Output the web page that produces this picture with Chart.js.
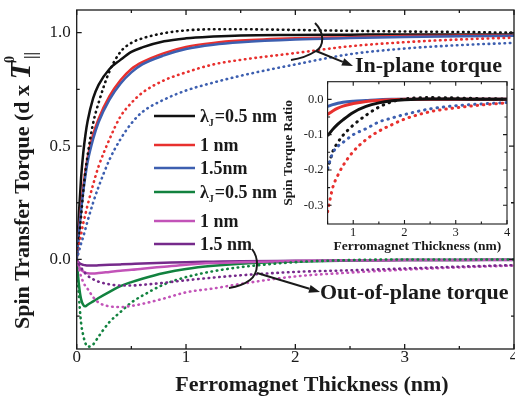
<!DOCTYPE html>
<html>
<head>
<meta charset="utf-8">
<script src="https://cdn.jsdelivr.net/npm/chart.js@4.4.1/dist/chart.umd.min.js"></script>
<style>
  html, body { margin: 0; padding: 0; background: #fff; }
  #wrap { position: relative; width: 515px; height: 401px; }
  #main { position: absolute; left: 0; top: 0; }
  #inset { position: absolute; left: 280px; top: 76px; }
</style>
</head>
<body>
<div id="wrap">
  <canvas id="main" width="515" height="401"></canvas>
  <canvas id="inset" width="232" height="178"></canvas>
</div>
<script>
// thickness grid (nm) for the main panel
const thickness = [0, 0.02, 0.04, 0.06, 0.08, 0.1, 0.15, 0.2, 0.3, 0.4, 0.5, 0.6, 0.8, 1.0, 1.25, 1.5, 2, 2.5, 3, 3.5, 4];

// in-plane torque, solid = one model, dotted = other
const inPlaneSolid05 = [0, 0.2, 0.36, 0.47, 0.55, 0.61, 0.71, 0.77, 0.84, 0.88, 0.915, 0.935, 0.962, 0.975, 0.983, 0.988, 0.99, 0.991, 0.992, 0.992, 0.992];
const inPlaneSolid10 = [0, 0.12, 0.23, 0.32, 0.39, 0.45, 0.55, 0.62, 0.72, 0.79, 0.84, 0.87, 0.91, 0.937, 0.955, 0.965, 0.975, 0.98, 0.985, 0.987, 0.988];
const inPlaneSolid15 = [0, 0.11, 0.215, 0.3, 0.37, 0.43, 0.53, 0.605, 0.705, 0.775, 0.825, 0.86, 0.9, 0.928, 0.947, 0.958, 0.97, 0.976, 0.981, 0.984, 0.986];
const inPlaneDot05 = [0, 0.09, 0.19, 0.3, 0.39, 0.46, 0.6, 0.69, 0.83, 0.915, 0.955, 0.975, 0.998, 1.01, 1.015, 1.015, 1.012, 1.008, 1.005, 1.003, 1.0];
const inPlaneDot10 = [0, 0.055, 0.11, 0.16, 0.2, 0.24, 0.33, 0.41, 0.53, 0.63, 0.69, 0.735, 0.79, 0.825, 0.86, 0.88, 0.91, 0.94, 0.958, 0.97, 0.978];
const inPlaneDot15 = [0, 0.035, 0.07, 0.1, 0.135, 0.17, 0.25, 0.32, 0.44, 0.53, 0.6, 0.65, 0.705, 0.745, 0.78, 0.81, 0.86, 0.905, 0.93, 0.945, 0.955];

// out-of-plane torque
const outSolid05 = [0, -0.11, -0.175, -0.2, -0.207, -0.2, -0.185, -0.17, -0.143, -0.118, -0.1, -0.085, -0.06, -0.042, -0.028, -0.019, -0.009, -0.005, -0.003, -0.002, -0.001];
const outSolid10 = [0, -0.03, -0.045, -0.053, -0.058, -0.061, -0.062, -0.06, -0.055, -0.05, -0.046, -0.041, -0.032, -0.023, -0.016, -0.012, -0.007, -0.004, -0.003, -0.002, -0.001];
const outSolid15 = [0, -0.014, -0.021, -0.024, -0.026, -0.027, -0.027, -0.026, -0.024, -0.022, -0.02, -0.018, -0.015, -0.012, -0.01, -0.008, -0.006, -0.004, -0.003, -0.002, -0.002];
const outDot05 = [0, -0.16, -0.28, -0.335, -0.37, -0.385, -0.375, -0.34, -0.276, -0.232, -0.19, -0.16, -0.11, -0.078, -0.052, -0.034, -0.012, -0.003, 0, 0, 0];
const outDot10 = [0, -0.04, -0.075, -0.1, -0.118, -0.13, -0.166, -0.19, -0.207, -0.21, -0.205, -0.196, -0.172, -0.145, -0.128, -0.108, -0.075, -0.058, -0.045, -0.035, -0.027];
const outDot15 = [0, -0.02, -0.036, -0.05, -0.062, -0.072, -0.087, -0.098, -0.11, -0.115, -0.115, -0.112, -0.103, -0.092, -0.08, -0.07, -0.055, -0.048, -0.04, -0.032, -0.025];

// inset: spin torque ratio
const insetThickness = [0.5, 0.6, 0.7, 0.8, 1.0, 1.25, 1.5, 1.75, 2.0, 2.5, 3.0, 3.5, 4.0];
const ratioSolid05 = [-0.103, -0.085, -0.07, -0.058, -0.037, -0.02, -0.01, -0.004, -0.001, 0.001, 0.001, 0, 0];
const ratioSolid10 = [-0.043, -0.033, -0.025, -0.019, -0.012, -0.006, -0.003, -0.001, 0, 0, 0, 0, 0];
const ratioSolid15 = [-0.02, -0.015, -0.011, -0.008, -0.005, -0.003, -0.001, 0, 0, 0, 0, 0, 0];
const ratioDot05 = [-0.198, -0.148, -0.122, -0.102, -0.073, -0.045, -0.022, -0.007, 0.001, 0.005, 0.004, 0.002, 0.001];
const ratioDot10 = [-0.318, -0.25, -0.215, -0.188, -0.148, -0.114, -0.09, -0.072, -0.056, -0.035, -0.024, -0.016, -0.01];
const ratioDot15 = [-0.195, -0.152, -0.133, -0.122, -0.1, -0.083, -0.064, -0.053, -0.043, -0.027, -0.018, -0.013, -0.009];

// axis ticks
const mainXTicks = [0, 1, 2, 3, 4];
const mainXMinor = [0.5, 1.5, 2.5, 3.5];
const mainYTicks = [0, 0.5, 1.0];
const mainYMinor = [-0.25, 0.25, 0.75];
const insetXTicks = [1, 2, 3, 4];
const insetXMinor = [0.5, 1.5, 2.5, 3.5];
const insetYTicks = [0, -0.1, -0.2, -0.3];
const insetYMinor = [-0.05, -0.15, -0.25];

const legendLabels = ["λ_J=0.5 nm", "1 nm", "1.5nm", "λ_J=0.5 nm", "1 nm", "1.5 nm"];

const SERIF = "'Liberation Serif', 'Times New Roman', serif";
const INK = "#1a1a1a";
const C = {
    black: "#111111", red: "#e8302e", blue: "#3d5fb0",
    green: "#12823f", magenta: "#c253b8", purple: "#762a8b"
};

function pts(xs, ys) {
    return xs.map((x, i) => ({ x: x, y: ys[i] }));
}

function series(xs, ys, color, dotted, width) {
    return {
        data: pts(xs, ys),
        borderColor: color,
        borderWidth: width,
        borderDash: dotted ? [0.5, dotted] : [],
        borderCapStyle: dotted ? "round" : "butt",
        borderJoinStyle: "round",
        pointRadius: 0,
        cubicInterpolationMode: "monotone",
        fill: false
    };
}

// fixed scale box, no label overflow padding
function fixBox(size, horizontal) {
    return s => {
        if (horizontal) s.height = size; else s.width = size;
        s.paddingTop = s.paddingBottom = s.paddingLeft = s.paddingRight = 0;
    };
}

function drawFrame(chart, o) {
    const { ctx, chartArea: a, scales } = chart;
    const x = scales.x, y = scales.y;
    ctx.save();
    ctx.strokeStyle = INK;
    ctx.lineWidth = o.lw;
    ctx.strokeRect(a.left, a.top, a.right - a.left, a.bottom - a.top);
    ctx.beginPath();
    const xt = (vals, len) => vals.forEach(v => {
        const p = x.getPixelForValue(v);
        ctx.moveTo(p, a.bottom); ctx.lineTo(p, a.bottom - len);
        ctx.moveTo(p, a.top); ctx.lineTo(p, a.top + len);
    });
    const yt = (vals, len) => vals.forEach(v => {
        const p = y.getPixelForValue(v);
        ctx.moveTo(a.left, p); ctx.lineTo(a.left + len, p);
        ctx.moveTo(a.right, p); ctx.lineTo(a.right - len, p);
    });
    xt(o.xMajor, o.major); xt(o.xMinor, o.minor);
    yt(o.yMajor, o.major); yt(o.yMinor, o.minor);
    ctx.stroke();
    ctx.restore();
}

function arrow(ctx, x1, y1, x2, y2) {
    const ang = Math.atan2(y2 - y1, x2 - x1);
    const L = 11, W = 4;
    ctx.beginPath();
    ctx.moveTo(x1, y1);
    ctx.lineTo(x2 - L * Math.cos(ang), y2 - L * Math.sin(ang));
    ctx.stroke();
    ctx.beginPath();
    ctx.moveTo(x2, y2);
    ctx.lineTo(x2 - L * Math.cos(ang) + W * Math.sin(ang), y2 - L * Math.sin(ang) - W * Math.cos(ang));
    ctx.lineTo(x2 - L * Math.cos(ang) - W * Math.sin(ang), y2 - L * Math.sin(ang) + W * Math.cos(ang));
    ctx.closePath();
    ctx.fill();
}

const mainDecor = {
    id: "mainDecor",
    afterDraw(chart) {
        const ctx = chart.ctx;
        drawFrame(chart, { lw: 1.3, major: 5, minor: 3,
            xMajor: mainXTicks, xMinor: mainXMinor, yMajor: mainYTicks, yMinor: mainYMinor });

        ctx.save();
        ctx.fillStyle = INK;
        ctx.strokeStyle = INK;

        // x title
        ctx.font = "bold 22px " + SERIF;
        ctx.textAlign = "center";
        ctx.textBaseline = "middle";
        ctx.fillText("Ferromagnet Thickness (nm)", 312, 385);

        // y title, rotated
        ctx.save();
        ctx.translate(29, 329);
        ctx.rotate(-Math.PI / 2);
        ctx.textAlign = "left";
        ctx.textBaseline = "alphabetic";
        ctx.font = "bold 22px " + SERIF;
        const main = "Spin Transfer Torque (d x ";
        ctx.fillText(main, 0, 0);
        let cx = ctx.measureText(main).width;
        ctx.font = "italic bold 30px " + SERIF;
        ctx.fillText("T", cx, 1);
        cx += ctx.measureText("T").width;
        ctx.font = "bold 14px " + SERIF;
        ctx.fillText("0", cx - 2, -15);
        ctx.font = "bold 16px " + SERIF;
        ctx.fillText("||", cx + 2, 7);
        ctx.restore();

        // legend
        const colors = [C.black, C.red, C.blue, C.green, C.magenta, C.purple];
        const rows = [116, 145, 168, 192, 221, 244];
        legendLabels.forEach((lab, i) => {
            const yy = rows[i];
            ctx.strokeStyle = colors[i];
            ctx.lineWidth = 2.5;
            ctx.beginPath();
            ctx.moveTo(154, yy); ctx.lineTo(195, yy);
            ctx.stroke();
            ctx.textAlign = "left";
            ctx.textBaseline = "middle";
            let tx = 200;
            if (lab.indexOf("_") > 0) {
                const [head, rest] = lab.split("_");
                ctx.font = "bold 18px " + SERIF;
                ctx.fillText(head, tx, yy + 1);
                tx += ctx.measureText(head).width;
                ctx.font = "bold 10px " + SERIF;
                ctx.fillText(rest[0], tx, yy + 7);
                tx += ctx.measureText(rest[0]).width + 1;
                ctx.font = "bold 18px " + SERIF;
                ctx.fillText(rest.slice(1), tx, yy + 1);
            } else {
                ctx.font = "bold 18px " + SERIF;
                ctx.fillText(lab, tx, yy + 1);
            }
        });

        // annotations: brackets + arrows
        ctx.strokeStyle = INK;
        ctx.fillStyle = INK;
        ctx.lineWidth = 2;
        ctx.beginPath();
        ctx.moveTo(315, 23);
        ctx.bezierCurveTo(325, 33, 324, 46, 316, 51);
        ctx.quadraticCurveTo(305, 58, 291, 60);
        ctx.stroke();
        arrow(ctx, 316, 51, 353, 66);

        ctx.beginPath();
        ctx.moveTo(252, 249);
        ctx.bezierCurveTo(259, 258, 259, 273, 250, 280);
        ctx.quadraticCurveTo(242, 286, 229, 288);
        ctx.stroke();
        arrow(ctx, 257, 273, 320, 292);

        ctx.font = "bold 22px " + SERIF;
        ctx.textAlign = "left";
        ctx.textBaseline = "middle";
        ctx.fillText("In-plane torque", 355, 66);
        ctx.fillText("Out-of-plane torque", 320, 293);
        ctx.restore();
    }
};

const insetDecor = {
    id: "insetDecor",
    afterDraw(chart) {
        const ctx = chart.ctx;
        const a = chart.chartArea;
        drawFrame(chart, { lw: 1.1, major: 4, minor: 2.5,
            xMajor: insetXTicks, xMinor: insetXMinor, yMajor: insetYTicks, yMinor: insetYMinor });
        ctx.save();
        ctx.fillStyle = INK;
        ctx.font = "bold 13.5px " + SERIF;
        ctx.textAlign = "center";
        ctx.textBaseline = "middle";
        ctx.fillText("Ferromagnet Thickness (nm)", (a.left + a.right) / 2, 171);
        ctx.translate(9, (a.top + a.bottom) / 2);
        ctx.rotate(-Math.PI / 2);
        ctx.fillText("Spin Torque Ratio", 0, 0);
        ctx.restore();
    }
};

new Chart(document.getElementById("main"), {
    type: "line",
    data: {
        datasets: [
            series(thickness, inPlaneDot15, C.blue, 4.8, 2.6),
            series(thickness, inPlaneDot10, C.red, 4.8, 2.6),
            series(thickness, inPlaneDot05, C.black, 4.8, 2.6),
            series(thickness, inPlaneSolid15, C.blue, 0, 2.5),
            series(thickness, inPlaneSolid10, C.red, 0, 2.5),
            series(thickness, inPlaneSolid05, C.black, 0, 2.5),
            series(thickness, outDot15, C.purple, 4.8, 2.6),
            series(thickness, outDot10, C.magenta, 4.8, 2.6),
            series(thickness, outDot05, C.green, 4.8, 2.6),
            series(thickness, outSolid10, C.magenta, 0, 2.5),
            series(thickness, outSolid15, C.purple, 0, 2.5),
            series(thickness, outSolid05, C.green, 0, 2.5)
        ]
    },
    options: {
        responsive: false,
        animation: false,
        layout: { padding: { top: 10, right: 1, left: 0, bottom: 0 } },
        plugins: { legend: { display: false }, tooltip: { enabled: false } },
        scales: {
            x: {
                type: "linear", min: 0, max: 4,
                grid: { display: false, drawTicks: false },
                border: { display: false },
                afterBuildTicks: s => { s.ticks = mainXTicks.map(v => ({ value: v })); },
                afterFit: fixBox(52, true),
                ticks: { color: INK, padding: 0, font: { family: SERIF, size: 17, lineHeight: 1 } }
            },
            y: {
                type: "linear", min: -0.395, max: 1.1,
                grid: { display: false, drawTicks: false },
                border: { display: false },
                afterBuildTicks: s => { s.ticks = mainYTicks.map(v => ({ value: v })); },
                afterFit: fixBox(76.7, false),
                ticks: { color: INK, padding: 6, font: { family: SERIF, size: 17 },
                         callback: v => Number(v).toFixed(1) }
            }
        }
    },
    plugins: [mainDecor]
});

new Chart(document.getElementById("inset"), {
    type: "line",
    data: {
        datasets: [
            series(insetThickness, ratioDot10, C.red, 5.8, 3),
            series(insetThickness, ratioDot15, C.blue, 5.8, 3),
            series(insetThickness, ratioDot05, C.black, 5.8, 3),
            series(insetThickness, ratioSolid05, C.black, 0, 3),
            series(insetThickness, ratioSolid10, C.red, 0, 3),
            series(insetThickness, ratioSolid15, C.blue, 0, 3)
        ]
    },
    options: {
        responsive: false,
        animation: false,
        layout: { padding: { top: 5.7, right: 5, left: 0, bottom: 0 } },
        plugins: { legend: { display: false }, tooltip: { enabled: false } },
        scales: {
            x: {
                type: "linear", min: 0.5, max: 4,
                grid: { display: false, drawTicks: false },
                border: { display: false },
                afterBuildTicks: s => { s.ticks = insetXTicks.map(v => ({ value: v })); },
                afterFit: fixBox(30, true),
                ticks: { color: INK, padding: 2, font: { family: SERIF, size: 12.5, lineHeight: 1 } }
            },
            y: {
                type: "linear", min: -0.353, max: 0.05,
                grid: { display: false, drawTicks: false },
                border: { display: false },
                afterBuildTicks: s => { s.ticks = insetYTicks.map(v => ({ value: v })); },
                afterFit: fixBox(47.6, false),
                ticks: { color: INK, padding: 4, font: { family: SERIF, size: 12.5 },
                         callback: v => Number(v).toFixed(1) }
            }
        }
    },
    plugins: [insetDecor]
});
</script>
</body>
</html>
